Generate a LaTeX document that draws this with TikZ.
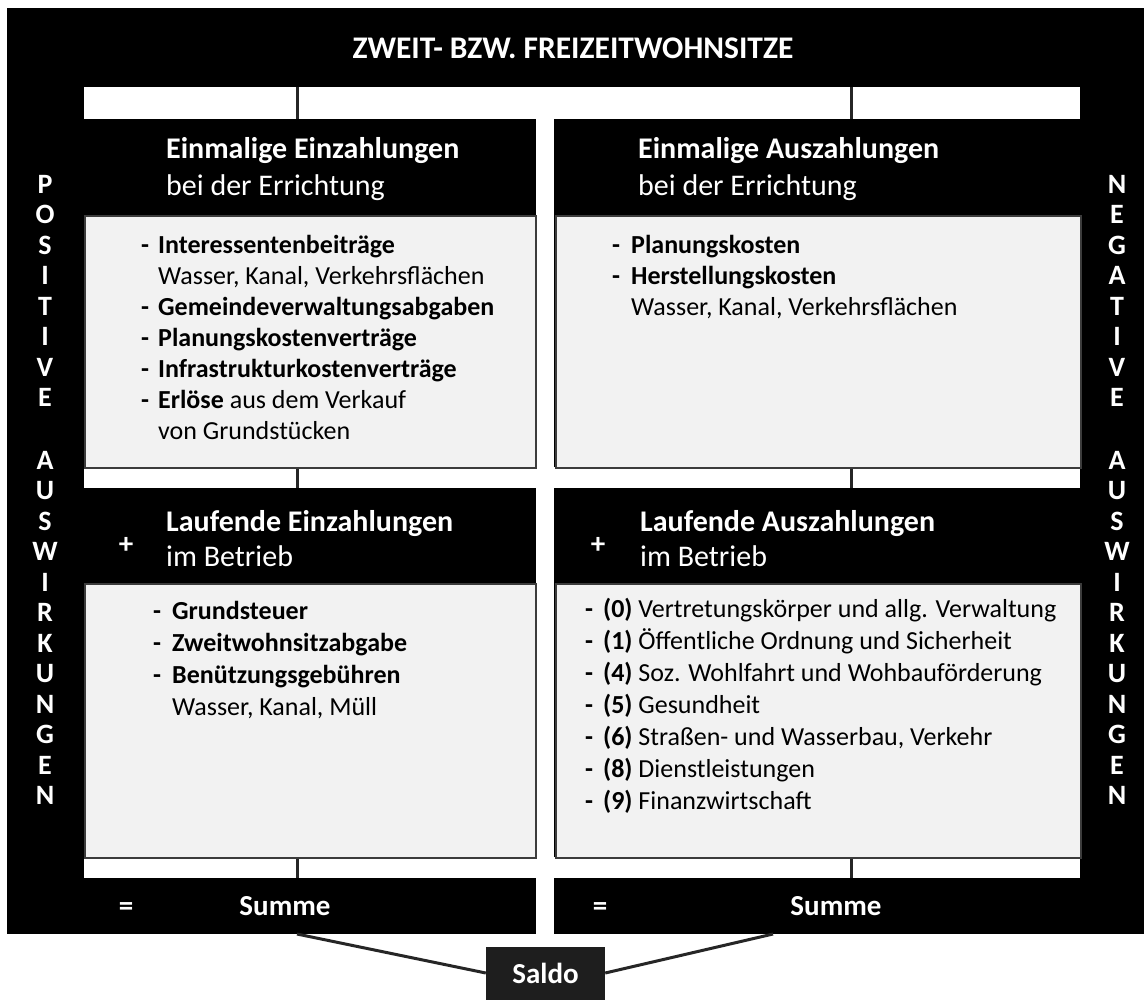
\documentclass[tikz,border=0pt]{standalone}
\usepackage{fontspec}
\setmainfont{Carlito}
\definecolor{boxgray}{HTML}{F2F2F2}
\definecolor{edgegray}{HTML}{3C3C3C}
\definecolor{saldogray}{HTML}{1E1E1E}
\definecolor{linegray}{HTML}{262626}
\newcommand\dsh[1][17pt]{\makebox[#1][l]{\textbf{-}}}
\begin{document}
\begin{tikzpicture}[x=1pt,y=-1pt,
  hdr/.style={anchor=base west, inner sep=0, text=white, font=\fontsize{30}{34}\selectfont\bfseries},
  sub/.style={anchor=base west, inner sep=0, text=white, font=\fontsize{30}{34}\selectfont},
  bodyA/.style={anchor=base west, inner sep=0, font=\fontsize{26}{31}\selectfont},
  bodyB/.style={anchor=base west, inner sep=0, font=\fontsize{26}{32}\selectfont},
  sym/.style={inner sep=0, text=white, font=\fontsize{29}{32}\selectfont\bfseries},
  vert/.style={inner sep=0, text=white, font=\fontsize{28}{30}\selectfont\bfseries},
  graybox/.style={fill=boxgray, draw=edgegray, line width=1.5pt, inner sep=0, anchor=north west},
  conn/.style={draw=linegray, line width=3pt},
]
\useasboundingbox (0,0) rectangle (1145,999);
% black frame and white cut-outs
\fill[black] (7,8) rectangle (1144,934);
\fill[white] (84,87) rectangle (1080,119);
\fill[white] (536,87) rectangle (554,936);
\fill[white] (84,467) rectangle (1080,488);
\fill[white] (84,857) rectangle (1080,878);

% title
\node[sym, font=\fontsize{31.5}{34}\selectfont\bfseries] (title) at (573,48) {ZWEIT- BZW. FREIZEITWOHNSITZE};

% gray boxes
\node[graybox, minimum width=451, minimum height=252] (boxUL) at (84,215) {};
\node[graybox, minimum width=525, minimum height=252] (boxUR) at (555,215) {};
\node[graybox, minimum width=451, minimum height=274] (boxLL) at (84,583) {};
\node[graybox, minimum width=525, minimum height=274] (boxLR) at (555,583) {};

% connectors in the white strips
\coordinate (bandL) at (297,87);
\coordinate (bandR) at (851,87);
\coordinate (hUL) at (297,119);
\coordinate (hUR) at (851,119);
\coordinate (hLL) at (297,488);
\coordinate (hLR) at (851,488);
\coordinate (sLL) at (297,878);
\coordinate (sLR) at (851,878);
\draw[conn] (bandL) -- (hUL);
\draw[conn] (bandR) -- (hUR);
\draw[conn] (boxUL.south -| hLL) -- (hLL);
\draw[conn] (boxUR.south -| hLR) -- (hLR);
\draw[conn] (boxLL.south -| sLL) -- (sLL);
\draw[conn] (boxLR.south -| sLR) -- (sLR);

% headers
\node[hdr] (hdrUL) at (166,158) {Einmalige Einzahlungen};
\node[sub] (subUL) at (166,195) {bei der Errichtung};
\node[hdr] (hdrUR) at (638,158) {Einmalige Auszahlungen};
\node[sub] (subUR) at (638,195) {bei der Errichtung};
\node[sym, anchor=base] (plusL) at (126,553) {+};
\node[hdr] (hdrLL) at (166,531) {Laufende Einzahlungen};
\node[sub] (subLL) at (166,566) {im Betrieb};
\node[sym, anchor=base] (plusR) at (598,553) {+};
\node[hdr] (hdrLR) at (640,531) {Laufende Auszahlungen};
\node[sub] (subLR) at (640,566) {im Betrieb};

% bodies
\node[bodyA] (bodyUL) at (141,253) {\begin{tabular}[t]{@{}l@{}}
\dsh[17pt]\textbf{Interessentenbeiträge}\\
\makebox[17pt]{}Wasser, Kanal, Verkehrsflächen\\
\dsh[17pt]\textbf{Gemeindeverwaltungsabgaben}\\
\dsh[17pt]\textbf{Planungskostenverträge}\\
\dsh[17pt]\textbf{Infrastrukturkostenverträge}\\
\dsh[17pt]\textbf{Erlöse} aus dem Verkauf\\
\makebox[17pt]{}von Grundstücken
\end{tabular}};
\node[bodyA] (bodyUR) at (612,253) {\begin{tabular}[t]{@{}l@{}}
\dsh[19pt]\textbf{Planungskosten}\\
\dsh[19pt]\textbf{Herstellungskosten}\\
\makebox[19pt]{}Wasser, Kanal, Verkehrsflächen
\end{tabular}};
\node[bodyB] (bodyLL) at (153,619) {\begin{tabular}[t]{@{}l@{}}
\dsh[19pt]\textbf{Grundsteuer}\\
\dsh[19pt]\textbf{Zweitwohnsitzabgabe}\\
\dsh[19pt]\textbf{Benützungsgebühren}\\
\makebox[19pt]{}Wasser, Kanal, Müll
\end{tabular}};
\node[bodyB] (bodyLR) at (585,617) {\begin{tabular}[t]{@{}l@{}}
\dsh[18pt]\textbf{(0)} Vertretungskörper und allg. Verwaltung\\
\dsh[18pt]\textbf{(1)} Öffentliche Ordnung und Sicherheit\\
\dsh[18pt]\textbf{(4)} Soz. Wohlfahrt und Wohbauförderung\\
\dsh[18pt]\textbf{(5)} Gesundheit\\
\dsh[18pt]\textbf{(6)} Straßen- und Wasserbau, Verkehr\\
\dsh[18pt]\textbf{(8)} Dienstleistungen\\
\dsh[18pt]\textbf{(9)} Finanzwirtschaft
\end{tabular}};

% vertical side labels
\foreach \ch [count=\i] in {P,O,S,I,T,I,V,E}
  \node[vert] (vp\i) at (45,{184+(\i-1)*30.5}) {\ch};
\foreach \ch [count=\i] in {A,U,S,W,I,R,K,U,N,G,E,N}
  \node[vert] (va\i) at (45,{460+(\i-1)*30.5}) {\ch};
\foreach \ch [count=\i] in {N,E,G,A,T,I,V,E}
  \node[vert] (vn\i) at (1117,{184+(\i-1)*30.5}) {\ch};
\foreach \ch [count=\i] in {A,U,S,W,I,R,K,U,N,G,E,N}
  \node[vert] (vb\i) at (1117,{460+(\i-1)*30.5}) {\ch};

% sums
\node[sym, anchor=base] (eqL) at (126,915) {=};
\node[sym, anchor=base] (sumL) at (285,915) {Summe};
\node[sym, anchor=base] (eqR) at (600,915) {=};
\node[sym, anchor=base] (sumR) at (836,915) {Summe};
\coordinate (sumLfoot) at (297,934);
\coordinate (sumRfoot) at (773,934);

% saldo
\node[fill=saldogray, text=white, font=\fontsize{29}{32}\selectfont\bfseries,
      minimum width=119, minimum height=53, inner sep=0] (saldo) at (545.5,973) {Saldo};
\draw[conn] (sumLfoot) -- (saldo.west);
\draw[conn] (sumRfoot) -- (saldo.east);
\end{tikzpicture}
\end{document}
